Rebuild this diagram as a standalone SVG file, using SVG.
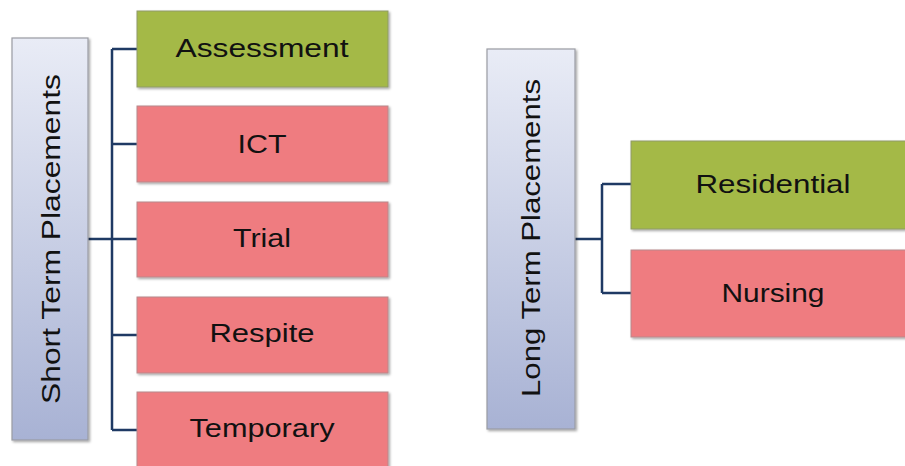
<svg xmlns="http://www.w3.org/2000/svg" width="905" height="466" viewBox="0 0 905 466">
<defs>
<linearGradient id="pg" x1="0" y1="0" x2="0" y2="1">
<stop offset="0" stop-color="#E9ECF6"/>
<stop offset="1" stop-color="#A8B2D4"/>
</linearGradient>
<filter id="sh" x="-5%" y="-5%" width="115%" height="115%">
<feDropShadow dx="1.5" dy="1.5" stdDeviation="1" flood-color="#000" flood-opacity="0.35"/>
</filter>
</defs>
<style>
.parent{fill:url(#pg);stroke:#9A9CA3;stroke-width:1.2;filter:url(#sh)}
.green{fill:#A4B946;stroke:#8F9A6A;stroke-width:1;filter:url(#sh)}
.red{fill:#EF7B80;stroke:#B88A8C;stroke-width:1;filter:url(#sh)}
.lbl{font-family:"Liberation Sans",Arial,sans-serif;font-size:26px;fill:#111;text-anchor:middle}
.conn{fill:none;stroke:#1F3A64;stroke-width:2.5}
</style>
<rect width="905" height="466" fill="#FFFFFF"/>
<g id="connectors">
<path class="conn" d="M88 239H112M112 49V430M112 49H137M112 144H137M112 239H137M112 335H137M112 430H137"/>
<path class="conn" d="M575 239H602M602 184V293M602 184H631M602 293H631"/>
</g>
<g id="short-term">
<rect class="parent" x="12" y="38" width="76" height="402"/>
<text class="lbl" transform="translate(60 239) rotate(-90)" textLength="330" lengthAdjust="spacingAndGlyphs">Short Term Placements</text>
</g>
<g id="assessment">
<rect class="green" x="137" y="11" width="251" height="76"/>
<text class="lbl" x="262" y="57" textLength="173" lengthAdjust="spacingAndGlyphs">Assessment</text>
</g>
<g id="ict">
<rect class="red" x="137" y="106" width="251" height="76"/>
<text class="lbl" x="262" y="153" textLength="49" lengthAdjust="spacingAndGlyphs">ICT</text>
</g>
<g id="trial">
<rect class="red" x="137" y="202" width="251" height="75"/>
<text class="lbl" x="262" y="247" textLength="58" lengthAdjust="spacingAndGlyphs">Trial</text>
</g>
<g id="respite">
<rect class="red" x="137" y="297" width="251" height="76"/>
<text class="lbl" x="262" y="342" textLength="105" lengthAdjust="spacingAndGlyphs">Respite</text>
</g>
<g id="temporary">
<rect class="red" x="137" y="392" width="251" height="80"/>
<text class="lbl" x="262" y="437" textLength="145" lengthAdjust="spacingAndGlyphs">Temporary</text>
</g>
<g id="long-term">
<rect class="parent" x="487" y="49" width="88" height="380"/>
<text class="lbl" transform="translate(540 238) rotate(-90)" textLength="318" lengthAdjust="spacingAndGlyphs">Long Term Placements</text>
</g>
<g id="residential">
<rect class="green" x="631" y="141" width="290" height="88"/>
<text class="lbl" x="773" y="193" textLength="155" lengthAdjust="spacingAndGlyphs">Residential</text>
</g>
<g id="nursing">
<rect class="red" x="631" y="250" width="290" height="87"/>
<text class="lbl" x="773" y="302" textLength="103" lengthAdjust="spacingAndGlyphs">Nursing</text>
</g>
</svg>
